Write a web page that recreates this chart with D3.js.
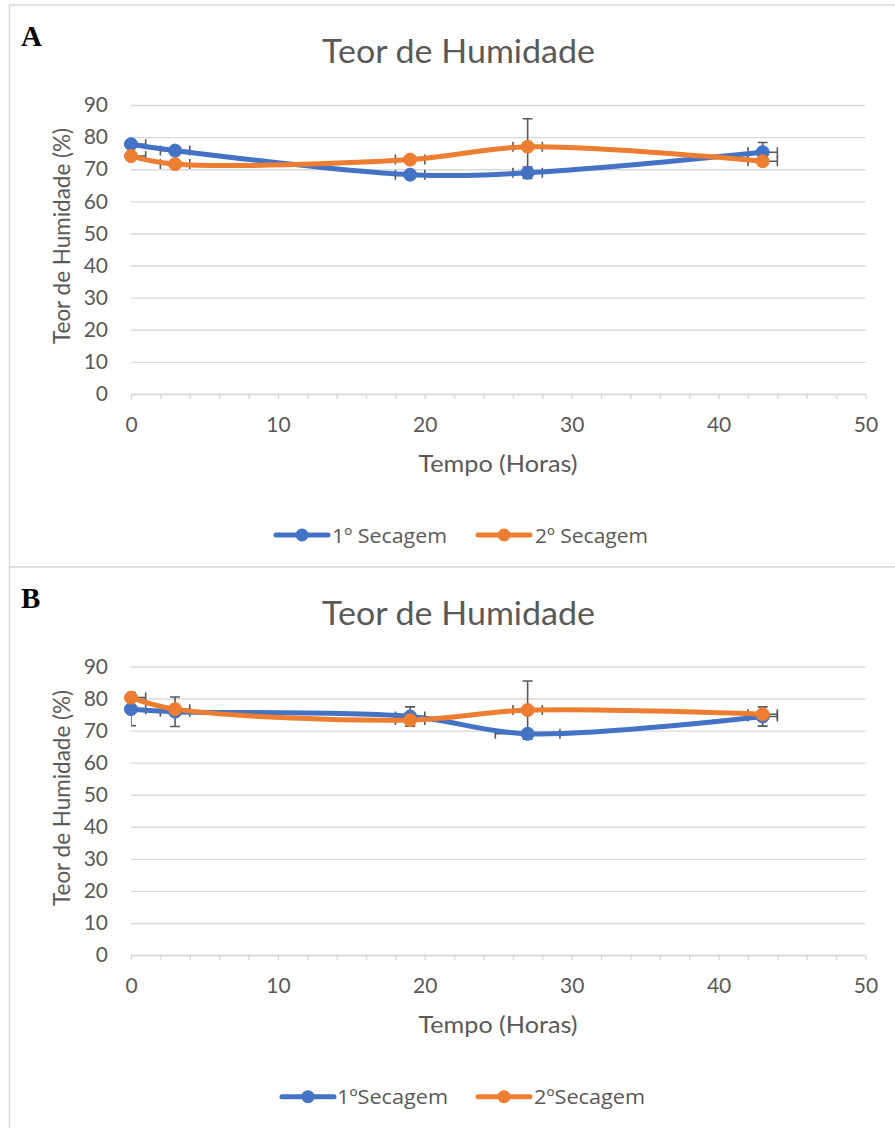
<!DOCTYPE html>
<html>
<head>
<meta charset="utf-8">
<script src="https://cdn.jsdelivr.net/npm/d3@7"></script>
<style>
  html, body { margin: 0; padding: 0; background: #ffffff; }
  svg { display: block; }
</style>
</head>
<body>
<div id="chart"></div>
<script>
// ---------- DATA ----------
const time = [0, 3, 19, 27, 43];
const xTicks = [0, 10, 20, 30, 40, 50];
const yTicks = [0, 10, 20, 30, 40, 50, 60, 70, 80, 90];
const chartTitle = "Teor de Humidade";
const xTitle = "Tempo (Horas)";
const yTitle = "Teor de Humidade (%)";

// Panel A
const namesA = ["1º Secagem", "2º Secagem"];
const a1 = [77.8, 75.8, 68.3, 68.9, 75.3];
const a1ErrY = [0.6, 0.6, 0.6, 1.8, 3.0];
const a1ErrX = [1, 1, 1, 1, 1];
const a2 = [74.1, 71.6, 73.0, 77.0, 72.5];
const a2ErrY = [0.6, 0.6, 0.6, 8.7, 0.8];
const a2ErrX = [1, 1, 1, 1, 1];

// Panel B
const namesB = ["1ºSecagem", "2ºSecagem"];
const b1 = [76.7, 75.9, 74.4, 69.0, 74.4];
const b1ErrY = [5.2, 4.6, 3.0, 0.8, 3.0];
const b1ErrX = [1, 1, 1, 2.2, 1];
const b2 = [80.3, 76.7, 73.3, 76.4, 75.1];
const b2ErrY = [1.0, 0.6, 0.6, 9.1, 0.8];
const b2ErrX = [1, 1, 1, 1, 1];

const colors = ["#4472C4", "#ED7D31"];
const FONT = "Lato, 'Open Sans', sans-serif";
const LEGFONT = "'Open Sans', 'Noto Sans', sans-serif";
const TXT = "#595959";
const GRID = "#d9d9d9";

const W = 895, H = 1128;
const svg = d3.select("#chart").append("svg")
  .attr("width", W).attr("height", H)
  .attr("viewBox", `0 0 ${W} ${H}`);

// panel frames
svg.append("rect").attr("x", 9.5).attr("y", 5).attr("width", 900).attr("height", 562)
  .attr("fill", "#fff").attr("stroke", GRID).attr("stroke-width", 1.5);
svg.append("rect").attr("x", 9.5).attr("y", 567).attr("width", 900).attr("height", 600)
  .attr("fill", "#fff").attr("stroke", GRID).attr("stroke-width", 1.5);

function drawPanel(cfg) {
  const g = svg.append("g");
  const x = d3.scaleLinear().domain([0, 50]).range([131, 865.5]);
  const y = d3.scaleLinear().domain([0, 90]).range([cfg.y0, cfg.y90]);
  const plotW = x.range()[1] - x.range()[0];

  // panel letter
  g.append("text").attr("x", 21).attr("y", cfg.letterY)
    .attr("font-family", "'Liberation Serif', 'Times New Roman', serif")
    .attr("font-weight", "bold").attr("font-size", 29).attr("fill", "#000")
    .text(cfg.letter);

  // title
  g.append("text").attr("x", 458.5).attr("y", cfg.titleY)
    .attr("text-anchor", "middle").attr("font-family", FONT)
    .attr("font-size", 32).attr("fill", TXT)
    .attr("textLength", 273).attr("lengthAdjust", "spacingAndGlyphs")
    .text(chartTitle);

  // y axis with gridlines
  const yAxis = g.append("g").attr("transform", `translate(${x.range()[0]},0)`)
    .call(d3.axisLeft(y).tickValues(yTicks).tickSize(-plotW).tickPadding(23).tickFormat(d3.format("d")));
  yAxis.select(".domain").remove();
  yAxis.selectAll(".tick line").attr("stroke", GRID).attr("stroke-width", 1.4);
  yAxis.selectAll(".tick text").attr("font-family", FONT).attr("font-size", 21).attr("fill", TXT);

  // x axis
  const minor = d3.range(0, 51, 2);
  const xAxis = g.append("g").attr("transform", `translate(0,${cfg.y0})`)
    .call(d3.axisBottom(x).tickValues(minor).tickSizeInner(5).tickSizeOuter(0).tickPadding(18)
      .tickFormat(d => xTicks.includes(d) ? d : ""));
  xAxis.select(".domain").attr("stroke", GRID).attr("stroke-width", 1.5);
  xAxis.selectAll(".tick line").attr("stroke", GRID).attr("stroke-width", 1.4);
  xAxis.selectAll(".tick text").attr("font-family", FONT).attr("font-size", 21).attr("fill", TXT);

  // axis titles
  g.append("text").attr("x", 498).attr("y", cfg.xTitleY)
    .attr("text-anchor", "middle").attr("font-family", FONT).attr("font-size", 23.5).attr("fill", TXT)
    .attr("textLength", 159).attr("lengthAdjust", "spacingAndGlyphs")
    .text(xTitle);
  g.append("text")
    .attr("transform", `translate(70,${cfg.yTitleC}) rotate(-90)`)
    .attr("text-anchor", "middle").attr("font-family", FONT).attr("font-size", 23.5).attr("fill", TXT)
    .attr("textLength", 216).attr("lengthAdjust", "spacingAndGlyphs")
    .text(yTitle);

  // clip
  const clipId = "clip" + cfg.letter;
  svg.append("clipPath").attr("id", clipId).append("rect")
    .attr("x", x.range()[0]).attr("y", cfg.y90 - 40)
    .attr("width", plotW + 20).attr("height", cfg.y0 - cfg.y90 + 40);

  const series = cfg.series;
  const line = d3.line().x(d => x(d.t)).y(d => y(d.v)).curve(d3.curveCatmullRom.alpha(0.5));
  const cap = 5;

  // error bars (below lines)
  const eb = g.append("g").attr("clip-path", `url(#${clipId})`)
    .attr("stroke", "#595959").attr("stroke-width", 1.6).attr("fill", "none");
  series.forEach(s => {
    s.pts.forEach(p => {
      const cx = x(p.t), cy = y(p.v);
      const yt = y(p.v + p.ey), yb = y(p.v - p.ey);
      eb.append("line").attr("x1", cx).attr("x2", cx).attr("y1", yt).attr("y2", yb);
      eb.append("line").attr("x1", cx - cap).attr("x2", cx + cap).attr("y1", yt).attr("y2", yt);
      eb.append("line").attr("x1", cx - cap).attr("x2", cx + cap).attr("y1", yb).attr("y2", yb);
      const xl = x(p.t - p.ex), xr = x(p.t + p.ex);
      eb.append("line").attr("x1", xl).attr("x2", xr).attr("y1", cy).attr("y2", cy);
      eb.append("line").attr("x1", xl).attr("x2", xl).attr("y1", cy - cap).attr("y2", cy + cap);
      eb.append("line").attr("x1", xr).attr("x2", xr).attr("y1", cy - cap).attr("y2", cy + cap);
    });
  });

  // lines and markers
  series.forEach((s, i) => {
    g.append("path").datum(s.pts).attr("d", line)
      .attr("fill", "none").attr("stroke", colors[i]).attr("stroke-width", 5)
      .attr("stroke-linecap", "round").attr("stroke-linejoin", "round");
  });
  series.forEach((s, i) => {
    g.selectAll(null).data(s.pts).enter().append("circle")
      .attr("cx", d => x(d.t)).attr("cy", d => y(d.v)).attr("r", 6.5)
      .attr("fill", colors[i]).attr("stroke", colors[i]).attr("stroke-width", 1);
  });

  // legend
  const lg = g.append("g");
  cfg.legend.forEach((L, i) => {
    lg.append("line").attr("x1", L.x1).attr("x2", L.x2).attr("y1", cfg.legendY).attr("y2", cfg.legendY)
      .attr("stroke", colors[i]).attr("stroke-width", 5).attr("stroke-linecap", "round");
    lg.append("circle").attr("cx", (L.x1 + L.x2) / 2).attr("cy", cfg.legendY).attr("r", 6.5)
      .attr("fill", colors[i]);
    lg.append("text").attr("x", L.tx).attr("y", cfg.legendY + 7.5)
      .attr("font-family", LEGFONT).attr("font-size", 20.5).attr("fill", TXT)
      .attr("textLength", L.tw).attr("lengthAdjust", "spacingAndGlyphs")
      .text(series[i].name);
  });
}

function mk(name, vals, ey, ex) {
  return { name, pts: time.map((t, i) => ({ t, v: vals[i], ey: ey[i], ex: ex[i] })) };
}

drawPanel({
  letter: "A", letterY: 46, titleY: 63.3, y0: 394, y90: 105,
  xTitleY: 471.7, yTitleC: 236, legendY: 535,
  series: [mk(namesA[0], a1, a1ErrY, a1ErrX), mk(namesA[1], a2, a2ErrY, a2ErrX)],
  legend: [{ x1: 276, x2: 328, tx: 332, tw: 115 }, { x1: 478, x2: 530, tx: 535, tw: 113 }]
});
drawPanel({
  letter: "B", letterY: 608, titleY: 624.5, y0: 955, y90: 666.5,
  xTitleY: 1032.5, yTitleC: 798, legendY: 1096.7,
  series: [mk(namesB[0], b1, b1ErrY, b1ErrX), mk(namesB[1], b2, b2ErrY, b2ErrX)],
  legend: [{ x1: 282, x2: 334, tx: 337, tw: 111 }, { x1: 478, x2: 530, tx: 534, tw: 111 }]
});
</script>
</body>
</html>
